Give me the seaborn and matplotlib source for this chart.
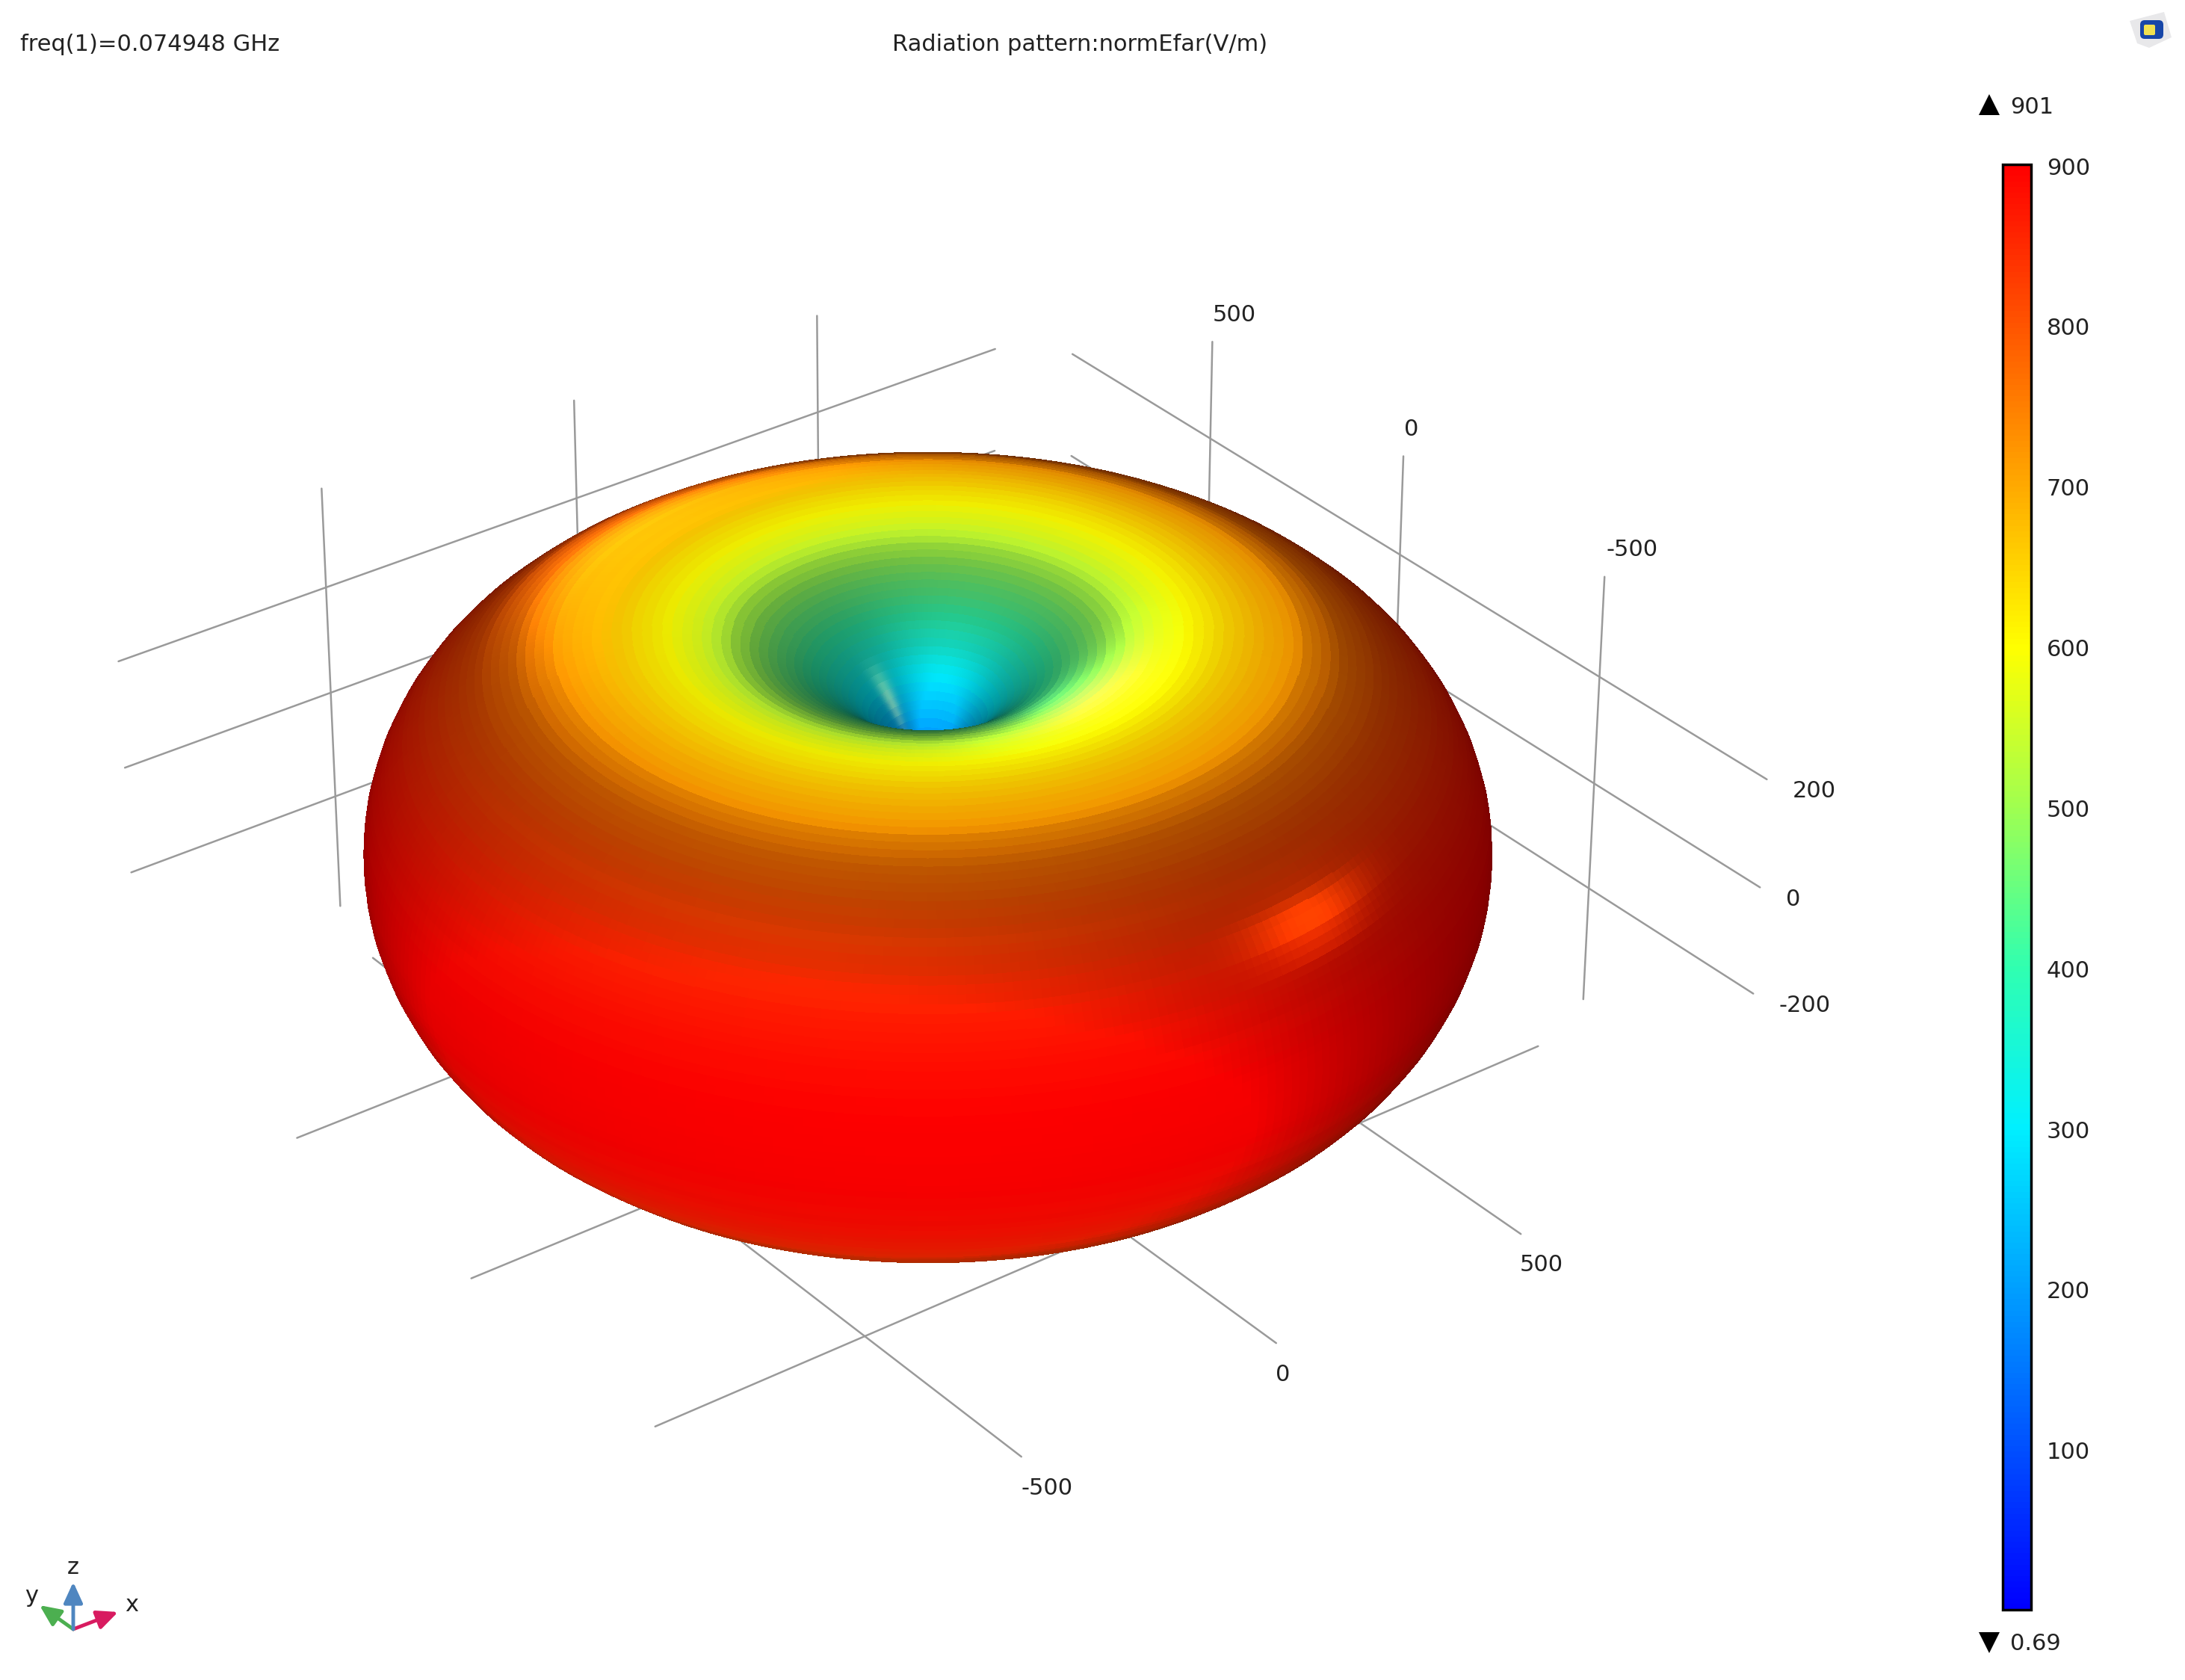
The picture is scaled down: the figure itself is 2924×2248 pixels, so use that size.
import numpy as np
import matplotlib
matplotlib.use("Agg")
import matplotlib.pyplot as plt
from matplotlib.cm import ScalarMappable
from matplotlib.colors import Normalize
from matplotlib.patches import FancyBboxPatch, Polygon
import seaborn as sns

# far field norm read along the lobe, pole to equator, every degree
efar_top = [0.69, 16, 31, 47, 63, 79, 94, 110, 125, 141, 156, 172, 187, 203, 218, 233,
            248, 263, 278, 293, 308, 323, 338, 352, 366, 381, 395, 409, 423, 437, 450,
            464, 477, 491, 504, 517, 530, 542, 555, 567, 579, 591, 603, 614, 626, 637,
            648, 659, 670, 680, 690, 700, 710, 720, 729, 738, 747, 756, 764, 772, 780,
            788, 796, 803, 810, 817, 823, 829, 835, 841, 847, 852, 857, 862, 866, 870,
            874, 878, 881, 884, 887, 890, 892, 894, 896, 898, 899, 900, 900, 901, 901]
cbar_ticks = [100, 200, 300, 400, 500, 600, 700, 800, 900]
xy_ticks = [-500, 0, 500]
z_ticks = [-200, 0, 200]
vmin, vmax = 0.69, 901
rainbow = ["#0000ff", "#0050ff", "#00a0ff", "#00f0ff", "#30ffb0", "#a0ff50",
           "#ffff00", "#ffaa00", "#ff5500", "#ff0000"]

sns.set_theme(style="white", font="DejaVu Sans")
W, H = 2924, 2248
fig = plt.figure(figsize=(W / 100, H / 100), dpi=100, facecolor="white")
cmap = sns.blend_palette(rainbow, as_cmap=True)
norm = Normalize(vmin, vmax)

elev, azim = 31.5, -127
FS = 22

# 3d part
size = 2500
cx, cy = 1208, 1163
ax = fig.add_axes([(cx - size / 2) / W, (H - cy - size / 2) / H, size / W, size / H], projection="3d")
ax.set_proj_type("persp", focal_length=0.8)
ax.computed_zorder = False
ax.set_axis_off()

r = np.array(efar_top + efar_top[-2::-1], dtype=float)
theta = np.radians(np.arange(len(r)) * 1.0)
phi = np.radians(np.arange(0, 361, 1.0))
T, P = np.meshgrid(theta, phi, indexing="ij")
R = np.repeat(r[:, None], len(phi), axis=1)
X = R * np.sin(T) * np.cos(P)
Y = R * np.sin(T) * np.sin(P)
Z = 0.88 * R * np.cos(T)  # lobe is flatter than a plain polar plot

# normals, then lights set in camera space
dT = np.stack([np.gradient(a, axis=0) for a in (X, Y, Z)], axis=-1)
dP = np.stack([np.gradient(a, axis=1) for a in (X, Y, Z)], axis=-1)
n = np.cross(dT, dP)
n = n / np.maximum(np.linalg.norm(n, axis=-1, keepdims=True), 1e-9)
e, a = np.radians(elev), np.radians(azim)
to_cam = np.array([np.cos(e) * np.cos(a), np.cos(e) * np.sin(a), np.sin(e)])
right = np.array([-np.sin(a), np.cos(a), 0.0])
up = np.cross(to_cam, right)
nc = np.stack([n @ right, n @ up, n @ to_cam], axis=-1)


def lit(lx, ly, lz, power):
    v = np.array([lx, ly, lz], dtype=float)
    v = v / np.linalg.norm(v)
    return np.clip(nc @ v, 0, 1) ** power


shade = (0.47 + 1.0 * lit(-0.15, -0.6, 0.78, 3) + 0.85 * lit(0, 0.87, 0.5, 25) + 0.12 * lit(0, 0.6, 0.8, 4)
         + 0.3 * lit(-0.9, 0, 0.4, 1.5) + 0.15 * lit(0.9, -0.1, 0.4, 1.5))
shade = np.clip(shade, 0, 1) * (0.55 + 0.45 * np.clip(nc[..., 2], 0, 1) ** 0.3)
rgba = cmap(norm(R))
base = rgba[..., :3].copy()
rgb = base * shade[..., None]
rgb += lit(0.55, 0.24, 0.8, 160)[..., None] * np.array([0.4, 0.18, 0.0])
rgb += lit(-0.25, 0.85, 0.3, 60)[..., None] * (base * 0.5 + 0.05)
rgba[..., :3] = np.clip(rgb, 0, 1)

line = dict(color="#9a9a9a", lw=1.8, zorder=1)
lo, hi, zb, zlo, zhi, wall = -900, 880, -470, -415, 385, 975
label = dict(ha="left", va="center", fontsize=FS, color="#222222", zorder=1)
for v in xy_ticks:
    ax.plot([v, v], [lo, hi], [zb, zb], **line)
    ax.plot([lo, hi], [v, v], [zb, zb], **line)
    ax.plot([v, v], [wall, wall], [zlo, zhi], **line)
    ax.plot([wall, wall], [v, v], [zlo, zhi], **line)
    ax.text(v, lo, zb - 60, str(v), **label)
    ax.text(wall, v, zhi + 50, str(v), **label)
for v in z_ticks:
    ax.plot([lo, hi], [wall, wall], [v, v], **line)
    ax.plot([wall, wall], [lo, hi], [v, v], **line)
    ax.text(wall, lo - 60, v + 8, str(v), **label)

ax.plot_surface(X, Y, Z, facecolors=rgba, rstride=1, cstride=1, shade=False,
                linewidth=0, antialiased=False, zorder=2)
ax.set_xlim(-1100, 1100)
ax.set_ylim(-1100, 1100)
ax.set_zlim(-1100, 1100)
ax.set_box_aspect((1, 1, 1), zoom=1.237)
ax.view_init(elev=elev, azim=azim)

# colour bar
cax = fig.add_axes([2680 / W, (H - 2154) / H, 38 / W, 1934 / H])
cb = fig.colorbar(ScalarMappable(norm, cmap), cax=cax, ticks=cbar_ticks)
cb.outline.set_edgecolor("black")
cb.outline.set_linewidth(2.5)
cax.tick_params(axis="y", direction="in", length=8, width=2, color="black", left=True, right=True,
                labelsize=FS, labelcolor="#222222", pad=15)
cax.minorticks_off()

# page furniture, in pixels
over = fig.add_axes([0, 0, 1, 1], facecolor="none")
over.set_xlim(0, W)
over.set_ylim(H, 0)
over.set_axis_off()
txt = dict(fontsize=FS, color="#222222", va="center")
over.text(27, 60, "freq(1)=0.074948 GHz", ha="left", **txt)
over.text(1445, 60, "Radiation pattern:normEfar(V/m)", ha="center", **txt)
over.text(2690, 143, "901", ha="left", **txt)
over.text(2690, 2199, "0.69", ha="left", **txt)
over.plot([2662], [140], marker="^", ms=20, color="black", mew=0)
over.plot([2662], [2198], marker="v", ms=20, color="black", mew=0)

ox, oy = 98, 2180
for (tx, ty), colr in zip([(158, 2157), (53, 2148), (98, 2117)], ["#d81b60", "#4caf50", "#4f86c0"]):
    over.annotate("", xy=(tx, ty), xytext=(ox, oy),
                  arrowprops=dict(arrowstyle="-|>,head_length=0.7,head_width=0.32", color=colr, lw=3.5,
                                  shrinkA=0, shrinkB=0, mutation_scale=24))
over.text(176, 2148, "x", ha="center", **txt)
over.text(42, 2136, "y", ha="center", **txt)
over.text(98, 2097, "z", ha="center", **txt)

over.add_patch(Polygon([[2850, 28], [2896, 16], [2906, 50], [2876, 64], [2860, 58]], fc="#e8e8ea", ec="none"))
over.add_patch(FancyBboxPatch((2864, 27), 31, 25, boxstyle="round,pad=0,rounding_size=6", fc="#1746a8", ec="none"))
over.add_patch(FancyBboxPatch((2869, 33), 15, 14, boxstyle="round,pad=0,rounding_size=2", fc="#f0e050", ec="none"))

fig.savefig("out.png", dpi=100)
plt.close(fig)
